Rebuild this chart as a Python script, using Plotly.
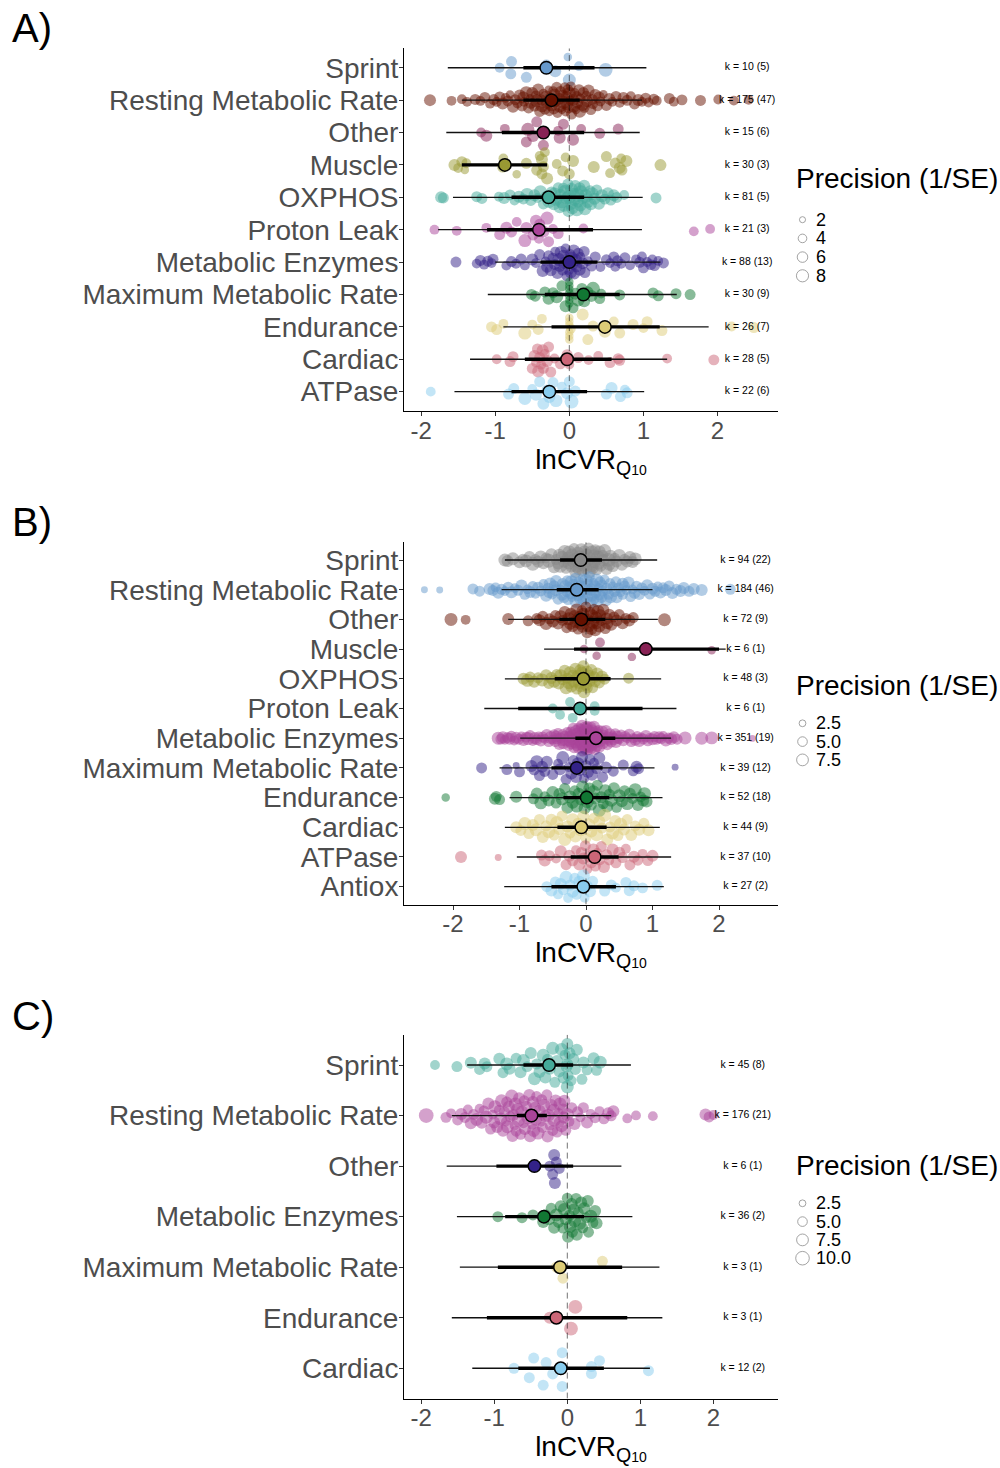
import numpy as np
import plotly.graph_objects as go

W, H = 1000, 1468
FONT = "Liberation Sans, Arial, Helvetica, sans-serif"

# orchaRd colour palette, assigned from the bottom category upwards
PALETTE = ["#88CCEE", "#CC6677", "#DDCC77", "#117733", "#332288", "#AA4499",
           "#44AA99", "#999933", "#882255", "#661100", "#6699CC", "#888888"]

X_TICKS = [-2, -1, 0, 1, 2]
X_TICK_LABELS = ["-2", "-1", "0", "1", "2"]

# ------------------------------------------------------------------ panel A
A_CATS = ["Sprint", "Resting Metabolic Rate", "Other", "Muscle", "OXPHOS",
          "Proton Leak", "Metabolic Enzymes", "Maximum Metabolic Rate",
          "Endurance", "Cardiac", "ATPase"]
A_EST = [-0.31, -0.24, -0.35, -0.87, -0.28, -0.41, 0.00, 0.19, 0.48, -0.03, -0.27]
A_CI_LO = [-0.62, -0.62, -0.91, -1.45, -0.78, -1.11, -0.39, -0.33, -0.24, -0.60, -0.78]
A_CI_HI = [0.34, 0.14, 0.20, -0.30, 0.20, 0.32, 0.38, 0.68, 1.22, 0.57, 0.24]
A_PI_LO = [-1.64, -1.45, -1.66, -1.45, -1.57, -1.77, -1.00, -1.10, -0.89, -1.34, -1.55]
A_PI_HI = [1.04, 0.98, 0.95, -0.30, 0.99, 0.98, 1.23, 1.45, 1.88, 1.32, 1.01]
A_K = ["k = 10 (5)", "k = 175 (47)", "k = 15 (6)", "k = 30 (3)", "k = 81 (5)",
       "k = 21 (3)", "k = 88 (13)", "k = 30 (9)", "k = 26 (7)", "k = 28 (5)",
       "k = 22 (6)"]

a_sprint_y = [-0.94, -0.79, -0.78, -0.58, -0.31, -0.19, -0.02, 0.00, 0.13, 0.49]
a_sprint_prec = [4, 5, 5, 5, 4, 6, 3, 7, 4, 8]

a_rmr_y = [-1.88, -1.59, -1.45, -1.38, -1.27, -1.20, -1.14, -1.07, -1.02, -0.98,
           -0.94, -0.90, -0.86, -0.83, -0.80, -0.76, -0.73, -0.70, -0.67, -0.64,
           -0.61, -0.58, -0.55, -0.53, -0.50, -0.47, -0.45, -0.42, -0.40, -0.37,
           -0.35, -0.33, -0.30, -0.28, -0.26, -0.24, -0.22, -0.20, -0.18, -0.16,
           -0.14, -0.12, -0.10, -0.08, -0.06, -0.05, -0.03, -0.02, 0.00, 0.01,
           0.03, 0.05, 0.07, 0.09, 0.11, 0.13, 0.15, 0.18, 0.20, 0.23,
           0.26, 0.29, 0.32, 0.35, 0.38, 0.42, 0.46, 0.50, 0.54, 0.58,
           0.63, 0.68, 0.73, 0.78, 0.83, 0.88, 0.93, 0.98, 1.03, 1.07,
           1.14, 1.18, 1.35, 1.41, 1.52, 1.77, 2.01, 2.22, 2.42,
           -0.62, -0.52, -0.44, -0.38, -0.31, -0.27, -0.21, -0.17, -0.13, -0.09,
           -0.04, -0.01, 0.02, 0.06, 0.10, 0.14, 0.19, 0.24, 0.31, 0.40]
a_rmr_prec = [6, 4, 4, 4, 5, 4, 5, 4, 5, 4,
              5, 6, 4, 5, 3, 6, 5, 4, 6, 5,
              4, 7, 5, 3, 6, 5, 4, 6, 5, 7,
              4, 5, 6, 3, 5, 7, 4, 6, 5, 4,
              6, 5, 3, 7, 5, 4, 6, 5, 7, 4,
              5, 6, 4, 3, 5, 6, 4, 7, 5, 4,
              6, 5, 4, 6, 5, 4, 3, 5, 6, 4,
              5, 4, 6, 5, 4, 5, 6, 4, 5, 4,
              5, 4, 5, 4, 5, 5, 4, 4, 4,
              6, 5, 7, 5, 6, 4, 6, 5, 7, 5,
              6, 5, 4, 6, 5, 7, 5, 6, 5, 6]

a_other_y = [-1.19, -1.12, -0.87, -0.58, -0.56, -0.49, -0.44, -0.35, -0.15, -0.13,
             -0.08, 0.05, 0.16, 0.41, 0.66]
a_other_prec = [4, 6, 4, 5, 7, 6, 5, 5, 4, 6, 5, 6, 4, 5, 5]

a_muscle_y = [-1.55, -1.50, -1.45, -1.41, -1.39, -0.90, -0.89, -0.71, -0.58, -0.44,
              -0.40, -0.37, -0.37, -0.35, -0.33, -0.30, -0.17, -0.09, -0.05, 0.00,
              0.05, 0.33, 0.50, 0.55, 0.62, 0.68, 0.70, 0.71, 0.77, 1.23]
a_muscle_prec = [6, 4, 5, 3, 4, 5, 4, 3, 5, 5,
                 4, 5, 6, 5, 4, 6, 4, 5, 4, 5,
                 6, 6, 5, 4, 5, 6, 4, 5, 6, 6]

a_oxphos_y = [-1.73, -1.70, -1.25, -1.18, -0.95, -0.88, -0.80, -0.74, -0.68, -0.62,
              -0.57, -0.52, -0.47, -0.43, -0.39, -0.35, -0.31, -0.27, -0.24, -0.21,
              -0.18, -0.15, -0.12, -0.10, -0.08, -0.06, -0.04, -0.02, 0.00, 0.02,
              0.04, 0.06, 0.08, 0.10, 0.12, 0.14, 0.16, 0.18, 0.20, 0.22,
              0.25, 0.28, 0.31, 0.34, 0.37, 0.40, 0.44, 0.48, 0.52, 0.56,
              0.60, 0.64, 0.74, 1.17,
              -0.20, -0.13, -0.07, -0.01, 0.03, 0.07, 0.11, 0.15, 0.21, 0.29]
a_oxphos_prec = [6, 5, 5, 5, 4, 6, 5, 4, 6, 5,
                 7, 5, 6, 4, 7, 5, 6, 8, 5, 6,
                 7, 5, 6, 8, 5, 7, 6, 5, 8, 6,
                 7, 5, 6, 8, 5, 6, 7, 5, 6, 8,
                 6, 5, 7, 6, 5, 6, 7, 5, 6, 5,
                 6, 5, 4, 5,
                 7, 6, 8, 6, 7, 5, 8, 6, 7, 6]

a_proton_y = [-1.82, -1.52, -1.12, -0.94, -0.85, -0.78, -0.71, -0.60, -0.58, -0.49,
              -0.45, -0.41, -0.40, -0.35, -0.30, -0.28, -0.22, -0.15, 0.19, 1.68, 1.90]
a_proton_prec = [4, 4, 4, 5, 6, 5, 4, 7, 6, 5, 6, 4, 5, 6, 7, 5, 4, 5, 4, 4, 4]

a_enzymes_y = [-1.53, -1.25, -1.20, -1.15, -1.10, -1.05, -1.03, -0.85, -0.78, -0.72,
               -0.65, -0.60, -0.50, -0.45, -0.40, -0.36, -0.32, -0.28, -0.25, -0.22,
               -0.19, -0.16, -0.13, -0.11, -0.09, -0.07, -0.05, -0.03, -0.01, 0.01,
               0.03, 0.05, 0.07, 0.09, 0.12, 0.15, 0.18, 0.21, 0.25, 0.30,
               0.35, 0.42, 0.50, 0.55, 0.60, 0.62, 0.65, 0.70, 0.75, 0.82,
               0.90, 0.95, 0.98, 1.00, 1.05, 1.10, 1.12, 1.15, 1.20, 1.27,
               -0.30, -0.20, -0.14, -0.08, -0.02, 0.02, 0.06, 0.10, 0.14, 0.20]
a_enzymes_prec = [5, 4, 5, 4, 5, 4, 5, 4, 5, 4,
                  5, 4, 6, 4, 5, 6, 4, 5, 6, 5,
                  4, 6, 5, 7, 5, 6, 4, 5, 6, 5,
                  7, 4, 5, 6, 5, 4, 6, 5, 4, 5,
                  5, 4, 5, 4, 5, 4, 5, 4, 5, 4,
                  4, 5, 4, 5, 4, 5, 4, 5, 4, 5,
                  6, 5, 7, 6, 5, 6, 7, 5, 6, 5]

a_mmr_y = [-0.51, -0.46, -0.33, -0.28, -0.22, -0.17, -0.10, -0.05, 0.00, 0.00,
           0.00, 0.00, 0.00, 0.00, 0.00, 0.05, 0.08, 0.12, 0.17, 0.20,
           0.25, 0.30, 0.32, 0.41, 0.43, 0.68, 1.13, 1.20, 1.44, 1.63]
a_mmr_prec = [5, 5, 5, 6, 5, 7, 5, 6, 3, 3,
              3, 3, 3, 3, 3, 5, 6, 7, 5, 6,
              5, 6, 8, 5, 4, 5, 5, 5, 5, 5]

a_endurance_y = [-1.05, -0.98, -0.89, -0.60, -0.50, -0.42, -0.37, 0.00, 0.00, 0.00,
                 0.00, 0.00, 0.00, 0.02, 0.18, 0.25, 0.32, 0.48, 0.60, 0.68,
                 0.86, 1.00, 1.05, 1.25, 2.19, 2.49]
a_endurance_prec = [5, 5, 4, 7, 4, 5, 4, 3, 3, 3,
                    3, 3, 3, 4, 6, 5, 5, 6, 4, 5,
                    5, 4, 5, 5, 4, 5]

a_cardiac_y = [-0.98, -0.80, -0.76, -0.50, -0.47, -0.45, -0.43, -0.42, -0.40, -0.38,
               -0.36, -0.35, -0.33, -0.30, -0.28, -0.25, -0.20, -0.12, -0.03, 0.00,
               0.12, 0.26, 0.39, 0.55, 0.66, 0.68, 1.32, 1.95]
a_cardiac_prec = [4, 5, 5, 5, 6, 4, 5, 6, 5, 4,
                  6, 5, 4, 6, 5, 5, 4, 5, 5, 4,
                  5, 4, 4, 5, 5, 5, 4, 5]

a_atpase_y = [-1.87, -0.82, -0.75, -0.60, -0.50, -0.45, -0.40, -0.35, -0.30, -0.27,
              -0.22, -0.18, -0.10, -0.03, 0.00, 0.03, 0.08, 0.50, 0.57, 0.69,
              0.75, 0.78]
a_atpase_prec = [4, 5, 5, 7, 4, 6, 5, 6, 5, 6,
                 5, 7, 4, 6, 5, 8, 5, 5, 6, 5,
                 4, 5]

A_POINTS = [(a_sprint_y, a_sprint_prec), (a_rmr_y, a_rmr_prec),
            (a_other_y, a_other_prec), (a_muscle_y, a_muscle_prec),
            (a_oxphos_y, a_oxphos_prec), (a_proton_y, a_proton_prec),
            (a_enzymes_y, a_enzymes_prec), (a_mmr_y, a_mmr_prec),
            (a_endurance_y, a_endurance_prec), (a_cardiac_y, a_cardiac_prec),
            (a_atpase_y, a_atpase_prec)]

# ------------------------------------------------------------------ panel B
B_CATS = ["Sprint", "Resting Metabolic Rate", "Other", "Muscle", "OXPHOS",
          "Proton Leak", "Metabolic Enzymes", "Maximum Metabolic Rate",
          "Endurance", "Cardiac", "ATPase", "Antiox"]
B_EST = [-0.08, -0.14, -0.07, 0.90, -0.04, -0.09, 0.15, -0.14, 0.01, -0.07, 0.13, -0.04]
B_CI_LO = [-0.39, -0.44, -0.40, -0.18, -0.47, -1.02, -0.16, -0.52, -0.34, -0.43, -0.23, -0.52]
B_CI_HI = [0.24, 0.19, 0.29, 2.00, 0.37, 0.85, 0.44, 0.25, 0.35, 0.31, 0.49, 0.45]
B_PI_LO = [-1.22, -1.27, -1.17, -0.63, -1.22, -1.53, -0.99, -1.30, -1.15, -1.22, -1.04, -1.23]
B_PI_HI = [1.07, 1.00, 1.08, 2.10, 1.13, 1.36, 1.28, 1.03, 1.15, 1.11, 1.28, 1.17]
B_K = ["k = 94 (22)", "k = 184 (46)", "k = 72 (9)", "k = 6 (1)", "k = 48 (3)",
       "k = 6 (1)", "k = 351 (19)", "k = 39 (12)", "k = 52 (18)", "k = 44 (9)",
       "k = 37 (10)", "k = 27 (2)"]

b_sprint_y = [-1.22, -1.18, -1.10, -1.00, -0.95, -0.90, -0.85, -0.80, -0.76, -0.72,
              -0.68, -0.64, -0.60, -0.56, -0.52, -0.48, -0.45, -0.42, -0.39, -0.36,
              -0.33, -0.30, -0.27, -0.25, -0.22, -0.20, -0.18, -0.16, -0.14, -0.12,
              -0.10, -0.08, -0.06, -0.04, -0.02, 0.00, 0.02, 0.04, 0.06, 0.08,
              0.10, 0.12, 0.14, 0.16, 0.18, 0.20, 0.22, 0.25, 0.28, 0.31,
              0.34, 0.37, 0.40, 0.43, 0.46, 0.50, 0.54, 0.58, 0.62, 0.66,
              0.70, 0.74,
              -0.40, -0.32, -0.26, -0.21, -0.15, -0.11, -0.07, -0.03, 0.01, 0.05,
              0.09, 0.13, 0.19, 0.26, 0.35]
b_sprint_prec = [7, 6, 7, 6, 5, 7, 6, 8, 5, 6,
                 7, 6, 5, 8, 6, 7, 5, 6, 8, 7,
                 6, 5, 7, 8, 6, 7, 5, 6, 8, 7,
                 6, 7, 5, 8, 6, 7, 6, 5, 7, 8,
                 6, 7, 5, 6, 8, 7, 6, 5, 7, 6,
                 8, 6, 7, 5, 6, 7, 6, 5, 6, 7,
                 6, 7,
                 7, 8, 6, 7, 8, 6, 7, 8, 6, 7,
                 8, 6, 7, 6, 7]

b_rmr_y = [-2.43, -2.20, -1.70, -1.60, -1.45, -1.40, -1.36, -1.32, -1.27, -1.22,
           -1.17, -1.12, -1.07, -1.02, -0.97, -0.92, -0.88, -0.84, -0.80, -0.76,
           -0.72, -0.68, -0.64, -0.60, -0.57, -0.54, -0.51, -0.48, -0.45, -0.42,
           -0.39, -0.36, -0.33, -0.31, -0.29, -0.27, -0.25, -0.23, -0.21, -0.19,
           -0.17, -0.15, -0.13, -0.11, -0.09, -0.07, -0.05, -0.03, -0.01, 0.01,
           0.03, 0.05, 0.07, 0.09, 0.11, 0.13, 0.15, 0.17, 0.19, 0.21,
           0.23, 0.25, 0.28, 0.31, 0.34, 0.37, 0.40, 0.43, 0.46, 0.49,
           0.52, 0.55, 0.58, 0.61, 0.64, 0.67, 0.70, 0.73, 0.76, 0.80,
           0.84, 0.88, 0.92, 0.96, 1.00, 1.04, 1.08, 1.12, 1.16, 1.20,
           1.25, 1.30, 1.36, 1.42, 1.47, 1.55, 1.62, 1.74, 2.17,
           -0.35, -0.28, -0.22, -0.16, -0.12, -0.08, -0.04, 0.00, 0.04, 0.08,
           0.12, 0.16, 0.20, 0.24, 0.30, 0.36, -0.45, 0.45, -0.55, 0.55]
b_rmr_prec = [2, 2, 5, 5, 6, 5, 4, 6, 5, 4,
              5, 6, 4, 5, 6, 5, 4, 6, 5, 4,
              6, 5, 4, 6, 5, 7, 4, 5, 6, 5,
              4, 6, 5, 7, 4, 5, 6, 5, 4, 6,
              5, 7, 4, 5, 6, 5, 4, 6, 5, 7,
              4, 5, 6, 5, 4, 6, 5, 7, 4, 5,
              6, 5, 4, 6, 5, 7, 4, 5, 6, 5,
              4, 6, 5, 4, 6, 5, 4, 6, 5, 6,
              5, 4, 6, 5, 6, 5, 4, 6, 5, 6,
              5, 6, 5, 6, 6, 5, 6, 6, 5,
              6, 5, 7, 5, 6, 4, 6, 7, 5, 6,
              5, 7, 6, 5, 6, 5, 6, 5, 6, 5]

b_other_y = [-2.03, -1.81, -1.17, -0.87, -0.74, -0.70, -0.65, -0.60, -0.55, -0.50,
             -0.46, -0.42, -0.38, -0.35, -0.32, -0.29, -0.26, -0.23, -0.20, -0.17,
             -0.15, -0.12, -0.10, -0.08, -0.06, -0.04, -0.02, 0.00, 0.02, 0.04,
             0.06, 0.08, 0.10, 0.12, 0.14, 0.16, 0.18, 0.20, 0.23, 0.26,
             0.29, 0.32, 0.35, 0.38, 0.42, 0.46, 0.50, 0.55, 0.60, 0.65,
             0.71, 1.18,
             -0.24, -0.14, -0.05, 0.03, 0.09, 0.15, 0.22, 0.31]
b_other_prec = [7, 4, 6, 5, 5, 6, 5, 7, 5, 6,
                5, 6, 7, 5, 6, 5, 7, 6, 5, 6,
                7, 5, 6, 7, 5, 6, 7, 5, 6, 7,
                5, 6, 7, 5, 6, 5, 7, 6, 5, 6,
                5, 6, 5, 6, 5, 6, 5, 6, 5, 6,
                5, 7,
                6, 7, 6, 5, 7, 6, 5, 6]

b_muscle_y = [-0.03, 0.16, 0.21, 0.69, 0.90, 1.89]
b_muscle_prec = [3, 3, 4, 3, 3, 3]

b_oxphos_y = [-0.94, -0.88, -0.84, -0.78, -0.72, -0.66, -0.60, -0.56, -0.52, -0.48,
              -0.44, -0.41, -0.38, -0.35, -0.32, -0.30, -0.28, -0.26, -0.24, -0.22,
              -0.20, -0.18, -0.16, -0.14, -0.12, -0.10, -0.09, -0.08, -0.06, -0.05,
              -0.04, -0.03, -0.02, 0.00, 0.01, 0.02, 0.04, 0.06, 0.08, 0.10,
              0.12, 0.14, 0.17, 0.20, 0.24, 0.28, 0.64]
b_oxphos_prec = [6, 7, 5, 6, 5, 7, 6, 5, 6, 7,
                 5, 6, 7, 5, 6, 7, 5, 6, 7, 6,
                 5, 7, 6, 5, 7, 6, 5, 6, 7, 5,
                 6, 7, 5, 6, 7, 5, 6, 5, 6, 5,
                 6, 5, 6, 5, 6, 5, 5]

b_proton_y = [-0.50, -0.39, -0.24, -0.20, 0.13, 0.13]
b_proton_prec = [4, 4, 4, 4, 4, 4]

b_enzymes_y = [-1.32, -1.28, -1.25, -1.22, -1.18, -1.15, -1.12, -1.08, -1.05, -1.01,
               -0.97, -0.94, -0.90, -0.87, -0.84, -0.80, -0.77, -0.74, -0.71, -0.68,
               -0.65, -0.62, -0.59, -0.56, -0.53, -0.50, -0.48, -0.46, -0.44, -0.42,
               -0.40, -0.38, -0.36, -0.34, -0.32, -0.30, -0.28, -0.26, -0.24, -0.22,
               -0.21, -0.20, -0.18, -0.17, -0.16, -0.14, -0.13, -0.12, -0.10, -0.09,
               -0.08, -0.07, -0.06, -0.05, -0.04, -0.03, -0.02, -0.01, 0.00, 0.00,
               0.01, 0.02, 0.03, 0.04, 0.05, 0.06, 0.07, 0.08, 0.09, 0.10,
               0.11, 0.12, 0.14, 0.15, 0.16, 0.18, 0.19, 0.20, 0.22, 0.24,
               0.26, 0.28, 0.30, 0.32, 0.34, 0.36, 0.38, 0.40, 0.42, 0.44,
               0.47, 0.50, 0.53, 0.56, 0.59, 0.62, 0.65, 0.68, 0.71, 0.74,
               0.77, 0.80, 0.83, 0.86, 0.90, 0.93, 0.96, 1.00, 1.03, 1.06,
               1.10, 1.13, 1.16, 1.20, 1.24, 1.28, 1.32, 1.37, 1.49, 1.74,
               1.89, 2.50,
               -0.25, -0.23, -0.19, -0.15, -0.11, -0.11, -0.08, -0.06, -0.04, -0.03,
               -0.02, -0.01, 0.00, 0.01, 0.02, 0.03, 0.05, 0.06, 0.08, 0.10,
               0.12, 0.13, 0.15, 0.17, 0.21, 0.25, -0.35, 0.33, -0.45, 0.45]
b_enzymes_prec = [7, 5, 6, 4, 5, 6, 5, 4, 6, 5,
                  4, 6, 5, 7, 5, 4, 6, 5, 4, 6,
                  5, 4, 6, 5, 7, 4, 5, 6, 5, 4,
                  6, 5, 4, 6, 5, 7, 4, 5, 6, 5,
                  4, 6, 5, 4, 6, 5, 7, 4, 5, 6,
                  5, 4, 6, 5, 4, 6, 5, 7, 4, 5,
                  6, 5, 4, 6, 5, 4, 6, 5, 7, 4,
                  5, 6, 5, 4, 6, 5, 4, 6, 5, 7,
                  4, 5, 6, 5, 4, 6, 5, 4, 6, 5,
                  7, 4, 5, 6, 5, 4, 6, 5, 4, 6,
                  5, 7, 4, 5, 6, 5, 4, 6, 5, 4,
                  6, 5, 4, 6, 5, 6, 6, 5, 7, 7,
                  7, 2,
                  6, 5, 6, 7, 5, 6, 5, 6, 7, 5,
                  6, 5, 7, 6, 5, 6, 5, 7, 6, 5,
                  6, 5, 6, 7, 5, 6, 5, 6, 5, 6]

b_mmr_y = [-1.57, -1.19, -1.05, -1.00, -0.82, -0.78, -0.74, -0.70, -0.66, -0.62,
           -0.59, -0.50, -0.42, -0.39, -0.35, -0.30, -0.26, -0.22, -0.19, -0.15,
           -0.12, -0.09, -0.06, -0.03, 0.00, 0.03, 0.06, 0.09, 0.12, 0.16,
           0.20, 0.25, 0.30, 0.41, 0.56, 0.71, 0.76, 0.79, 1.34]
b_mmr_prec = [5, 5, 2, 5, 6, 5, 7, 5, 6, 5,
              6, 5, 4, 6, 7, 5, 4, 6, 5, 6,
              7, 5, 6, 4, 5, 6, 5, 6, 4, 5,
              6, 5, 6, 5, 5, 5, 6, 5, 2]

b_endurance_y = [-2.11, -1.37, -1.35, -1.30, -1.05, -0.79, -0.74, -0.68, -0.62, -0.56,
                 -0.50, -0.45, -0.40, -0.36, -0.32, -0.28, -0.24, -0.20, -0.17, -0.14,
                 -0.11, -0.08, -0.05, -0.02, 0.00, 0.02, 0.05, 0.08, 0.11, 0.14,
                 0.17, 0.20, 0.23, 0.26, 0.29, 0.32, 0.35, 0.38, 0.42, 0.46,
                 0.50, 0.54, 0.58, 0.62, 0.66, 0.70, 0.74, 0.78, 0.82, 0.86,
                 0.88, 0.91]
b_endurance_prec = [3, 6, 5, 5, 6, 5, 6, 7, 5, 6,
                    7, 5, 6, 7, 5, 6, 7, 6, 5, 7,
                    6, 5, 7, 6, 5, 7, 6, 5, 7, 6,
                    5, 7, 6, 5, 7, 6, 5, 7, 6, 5,
                    7, 6, 5, 7, 6, 5, 7, 6, 5, 6,
                    7, 6]

b_cardiac_y = [-1.05, -0.98, -0.92, -0.86, -0.80, -0.75, -0.70, -0.65, -0.60, -0.56,
               -0.52, -0.48, -0.44, -0.40, -0.36, -0.32, -0.28, -0.24, -0.20, -0.16,
               -0.12, -0.08, -0.04, 0.00, 0.04, 0.08, 0.12, 0.16, 0.20, 0.24,
               0.28, 0.32, 0.36, 0.40, 0.44, 0.48, 0.52, 0.57, 0.62, 0.68,
               0.74, 0.80, 0.87, 0.94]
b_cardiac_prec = [6, 5, 7, 5, 6, 7, 5, 6, 5, 7,
                  6, 5, 7, 6, 5, 7, 6, 5, 7, 6,
                  5, 7, 6, 5, 7, 6, 5, 7, 6, 5,
                  7, 6, 5, 7, 6, 5, 7, 6, 5, 6,
                  5, 6, 5, 6]

b_atpase_y = [-1.88, -1.32, -0.67, -0.62, -0.55, -0.45, -0.38, -0.30, -0.25, -0.20,
              -0.15, -0.10, -0.07, -0.04, -0.01, 0.02, 0.05, 0.08, 0.11, 0.14,
              0.17, 0.20, 0.23, 0.27, 0.31, 0.35, 0.40, 0.45, 0.50, 0.55,
              0.60, 0.66, 0.72, 0.78, 0.85, 0.93, 1.00]
b_atpase_prec = [6, 2, 5, 6, 5, 4, 6, 5, 6, 5,
                 4, 6, 5, 6, 5, 4, 6, 5, 6, 5,
                 4, 6, 5, 6, 5, 4, 6, 5, 6, 5,
                 4, 5, 6, 5, 4, 5, 6]

b_antiox_y = [-0.59, -0.52, -0.46, -0.42, -0.38, -0.34, -0.30, -0.27, -0.24, -0.20,
              -0.17, -0.14, -0.10, -0.07, -0.04, -0.02, 0.02, 0.06, 0.10, 0.28,
              0.38, 0.45, 0.60, 0.65, 0.72, 0.85, 1.07]
b_antiox_prec = [5, 6, 5, 4, 6, 5, 7, 4, 5, 6,
                 5, 4, 6, 5, 7, 4, 5, 6, 5, 5,
                 5, 4, 5, 5, 5, 5, 5]

B_POINTS = [(b_sprint_y, b_sprint_prec), (b_rmr_y, b_rmr_prec),
            (b_other_y, b_other_prec), (b_muscle_y, b_muscle_prec),
            (b_oxphos_y, b_oxphos_prec), (b_proton_y, b_proton_prec),
            (b_enzymes_y, b_enzymes_prec), (b_mmr_y, b_mmr_prec),
            (b_endurance_y, b_endurance_prec), (b_cardiac_y, b_cardiac_prec),
            (b_atpase_y, b_atpase_prec), (b_antiox_y, b_antiox_prec)]

# ------------------------------------------------------------------ panel C
C_CATS = ["Sprint", "Resting Metabolic Rate", "Other", "Metabolic Enzymes",
          "Maximum Metabolic Rate", "Endurance", "Cardiac"]
C_EST = [-0.25, -0.49, -0.45, -0.32, -0.10, -0.15, -0.09]
C_CI_LO = [-0.60, -0.69, -0.97, -0.85, -0.95, -1.10, -0.67]
C_CI_HI = [0.08, -0.28, 0.08, 0.23, 0.75, 0.82, 0.50]
C_PI_LO = [-1.37, -1.58, -1.65, -1.51, -1.47, -1.58, -1.30]
C_PI_HI = [0.87, 0.60, 0.74, 0.89, 1.26, 1.30, 1.13]
C_K = ["k = 45 (8)", "k = 176 (21)", "k = 6 (1)", "k = 36 (2)", "k = 3 (1)",
       "k = 3 (1)", "k = 12 (2)"]

c_sprint_y = [-1.81, -1.51, -1.32, -1.20, -1.13, -1.10, -0.93, -0.88, -0.83, -0.79,
              -0.70, -0.64, -0.60, -0.55, -0.50, -0.45, -0.42, -0.38, -0.33, -0.30,
              -0.27, -0.24, -0.20, -0.17, -0.14, -0.11, -0.08, -0.05, -0.03, -0.01,
              0.00, 0.00, 0.00, 0.01, 0.03, 0.05, 0.08, 0.11, 0.13, 0.20,
              0.22, 0.27, 0.36, 0.40, 0.45]
c_sprint_prec = [4, 5, 6, 5, 6, 5, 6, 5, 7, 6,
                 5, 6, 7, 5, 6, 7, 5, 6, 7, 6,
                 5, 6, 7, 5, 6, 5, 7, 6, 5, 6,
                 6, 7, 6, 5, 6, 5, 6, 5, 6, 5,
                 6, 5, 6, 5, 7]

c_rmr_y = [-1.93, -1.66, -1.59, -1.50, -1.45, -1.40, -1.36, -1.32, -1.28, -1.24,
           -1.20, -1.17, -1.14, -1.11, -1.08, -1.05, -1.02, -0.99, -0.96, -0.93,
           -0.90, -0.88, -0.86, -0.84, -0.82, -0.80, -0.78, -0.76, -0.74, -0.72,
           -0.70, -0.68, -0.66, -0.64, -0.62, -0.60, -0.58, -0.56, -0.54, -0.52,
           -0.50, -0.48, -0.46, -0.44, -0.42, -0.40, -0.38, -0.36, -0.34, -0.32,
           -0.30, -0.28, -0.26, -0.24, -0.22, -0.20, -0.18, -0.16, -0.14, -0.12,
           -0.10, -0.08, -0.06, -0.04, -0.02, 0.00, 0.03, 0.06, 0.10, 0.14,
           0.18, 0.22, 0.27, 0.32, 0.38, 0.44, 0.50, 0.56, 0.60, 0.63,
           0.82, 0.94, 1.17, 1.89, 1.94, 2.00,
           -1.00, -0.91, -0.83, -0.75, -0.67, -0.59, -0.51, -0.43, -0.35, -0.27,
           -0.19, -0.11, -0.05, -0.71, -0.47]
c_rmr_prec = [9, 5, 4, 5, 6, 5, 4, 6, 5, 7,
              4, 6, 5, 7, 6, 5, 4, 7, 6, 5,
              7, 6, 5, 4, 7, 6, 5, 7, 6, 4,
              5, 7, 6, 5, 7, 4, 6, 5, 7, 6,
              5, 4, 7, 6, 5, 7, 6, 4, 5, 7,
              6, 5, 7, 4, 6, 5, 7, 6, 5, 4,
              7, 6, 5, 6, 5, 7, 4, 5, 6, 5,
              4, 5, 6, 4, 5, 4, 5, 6, 5, 6,
              4, 4, 4, 6, 5, 4,
              6, 7, 5, 6, 7, 5, 6, 7, 5, 6,
              7, 5, 6, 7, 6]

c_other_y = [-0.24, -0.20, -0.18, -0.17, -0.15, -0.11]
c_other_prec = [5, 5, 6, 6, 5, 5]

c_enzymes_y = [-0.95, -0.62, -0.47, -0.33, -0.30, -0.25, -0.22, -0.18, -0.15, -0.12,
               -0.09, -0.06, -0.04, -0.02, 0.00, 0.01, 0.03, 0.04, 0.06, 0.07,
               0.09, 0.10, 0.12, 0.13, 0.15, 0.17, 0.19, 0.21, 0.23, 0.26,
               0.28, 0.29, 0.32, 0.35, 0.38, 0.40]
c_enzymes_prec = [5, 5, 5, 6, 5, 6, 5, 6, 7, 5,
                  6, 5, 7, 6, 5, 6, 5, 7, 6, 5,
                  6, 7, 5, 6, 5, 7, 6, 5, 6, 5,
                  6, 5, 7, 5, 6, 6]

c_mmr_y = [-0.15, -0.06, 0.48]
c_mmr_prec = [5, 5, 5]

c_endurance_y = [-0.24, 0.05, 0.11]
c_endurance_prec = [6, 8, 8]

c_cardiac_y = [-0.73, -0.52, -0.46, -0.33, -0.29, -0.20, -0.07, -0.07, 0.33, 0.33,
               0.44, 1.11]
c_cardiac_prec = [5, 5, 5, 5, 5, 5, 5, 5, 5, 5, 5, 5]

C_POINTS = [(c_sprint_y, c_sprint_prec), (c_rmr_y, c_rmr_prec),
            (c_other_y, c_other_prec), (c_enzymes_y, c_enzymes_prec),
            (c_mmr_y, c_mmr_prec), (c_endurance_y, c_endurance_prec),
            (c_cardiac_y, c_cardiac_prec)]

# legend breaks of the precision size scale
A_BREAKS = [2, 4, 6, 8]
A_BREAK_LABELS = ["2", "4", "6", "8"]
B_BREAKS = [2.5, 5.0, 7.5]
B_BREAK_LABELS = ["2.5", "5.0", "7.5"]
C_BREAKS = [2.5, 5.0, 7.5, 10.0]
C_BREAK_LABELS = ["2.5", "5.0", "7.5", "10.0"]


# ------------------------------------------------------------------ helpers
def size_of(prec):
    """Marker diameter (px) for a precision value (area-proportional scale)."""
    return 4.9 * np.sqrt(np.asarray(prec, float))


def legend_size_of(prec):
    """Diameter of the open key circles in the precision legend."""
    return 4.3 * np.sqrt(np.asarray(prec, float))


def van_der_corput(n):
    out = np.empty(n)
    for i in range(1, n + 1):
        v, denom, k = 0.0, 1.0, i
        while k:
            denom *= 2.0
            k, r = divmod(k, 2)
            v += r / denom
        out[i - 1] = v
    return out


def quasirandom_offsets(vals, width=0.45):
    """Vertical beeswarm offsets scaled by a kernel density estimate."""
    x = np.asarray(vals, float)
    n = len(x)
    if n < 2:
        return np.zeros(n)
    sd = x.std(ddof=1)
    q75, q25 = np.percentile(x, [75, 25])
    s = min(sd, (q75 - q25) / 1.34) if q75 > q25 else sd
    h = 0.9 * s * n ** -0.2 if s > 0 else 0.1
    grid = np.linspace(x.min() - 3 * h, x.max() + 3 * h, 512)
    dgrid = np.exp(-0.5 * ((grid[:, None] - x[None, :]) / h) ** 2).sum(axis=1)
    dens = np.interp(x, grid, dgrid) / dgrid.max()
    order = np.argsort(x, kind="stable")
    ranks = np.empty(n, dtype=int)
    ranks[order] = np.arange(n)
    q = van_der_corput(n)[ranks]
    return (q - 0.5) * 2.0 * width * dens


def px_x(px):
    return px / W


def px_y(py):
    return 1.0 - py / H


X_DOMAIN = [px_x(404), px_x(778)]
K_LABEL_X = 2.4
X_TITLE = "lnCVR<sub>Q<span style='font-size:14px'>10</span></sub>"

PANELS = [
    dict(tag="A)", cats=A_CATS, points=A_POINTS, est=A_EST, ci=(A_CI_LO, A_CI_HI),
         pi=(A_PI_LO, A_PI_HI), k=A_K, breaks=A_BREAKS, break_labels=A_BREAK_LABELS,
         top=48.3, bottom=411.1, xrange=[-2.231, 2.816], tag_y=28.3,
         leg_title_y=178.3, leg_item_y=219.7, leg_step=18.7),
    dict(tag="B)", cats=B_CATS, points=B_POINTS, est=B_EST, ci=(B_CI_LO, B_CI_HI),
         pi=(B_PI_LO, B_PI_HI), k=B_K, breaks=B_BREAKS, break_labels=B_BREAK_LABELS,
         top=542.2, bottom=904.5, xrange=[-2.737, 2.887], tag_y=522.0,
         leg_title_y=685.0, leg_item_y=723.3, leg_step=18.3),
    dict(tag="C)", cats=C_CATS, points=C_POINTS, est=C_EST, ci=(C_CI_LO, C_CI_HI),
         pi=(C_PI_LO, C_PI_HI), k=C_K, breaks=C_BREAKS, break_labels=C_BREAK_LABELS,
         top=1034.7, bottom=1398.6, xrange=[-2.234, 2.882], tag_y=1016.0,
         leg_title_y=1165.0, leg_item_y=1203.3, leg_step=18.3),
]

fig = go.Figure()
annotations = []
shapes = []
layout_axes = {}

for pi_, panel in enumerate(PANELS):
    idx = "" if pi_ == 0 else str(pi_ + 1)
    xa, ya = "x" + idx, "y" + idx
    cats = panel["cats"]
    n = len(cats)
    pos = [n - i for i in range(n)]
    colours = [PALETTE[n - 1 - i] for i in range(n)]

    # raw effect sizes, spread vertically as a quasirandom beeswarm
    for i, (vals, prec) in enumerate(panel["points"]):
        if len(vals) != len(prec):
            raise ValueError(f"{cats[i]}: {len(vals)} values vs {len(prec)} precisions")
        off = quasirandom_offsets(vals)
        fig.add_trace(go.Scatter(
            x=vals, y=pos[i] + off, mode="markers", xaxis=xa, yaxis=ya,
            marker=dict(color=colours[i], opacity=0.5, size=size_of(prec),
                        line=dict(width=0)),
            hoverinfo="skip", showlegend=False))

    # zero reference line
    fig.add_trace(go.Scatter(
        x=[0, 0], y=[0.4, n + 0.6], mode="lines", xaxis=xa, yaxis=ya,
        line=dict(color="rgba(0,0,0,0.55)", width=1, dash="6px,4px"),
        hoverinfo="skip", showlegend=False))

    lo_pi, hi_pi = panel["pi"]
    lo_ci, hi_ci = panel["ci"]
    for i in range(n):
        # prediction interval (thin) and confidence interval (thick)
        fig.add_trace(go.Scatter(
            x=[lo_pi[i], hi_pi[i]], y=[pos[i], pos[i]], mode="lines",
            xaxis=xa, yaxis=ya, line=dict(color="#111111", width=1.3),
            hoverinfo="skip", showlegend=False))
        fig.add_trace(go.Scatter(
            x=[lo_ci[i], hi_ci[i]], y=[pos[i], pos[i]], mode="lines",
            xaxis=xa, yaxis=ya, line=dict(color="#000000", width=3.4),
            hoverinfo="skip", showlegend=False))
    fig.add_trace(go.Scatter(
        x=panel["est"], y=pos, mode="markers", xaxis=xa, yaxis=ya,
        marker=dict(color=colours, size=12.5, line=dict(color="black", width=1.5)),
        hoverinfo="skip", showlegend=False))

    # number of effect sizes (studies)
    fig.add_trace(go.Scatter(
        x=[K_LABEL_X] * n, y=pos, mode="text", text=panel["k"], xaxis=xa, yaxis=ya,
        textposition="middle center",
        textfont=dict(family=FONT, size=10.5, color="black"),
        hoverinfo="skip", showlegend=False))

    layout_axes["xaxis" + idx] = dict(
        domain=X_DOMAIN, anchor=ya, range=panel["xrange"],
        tickmode="array", tickvals=X_TICKS, ticktext=X_TICK_LABELS,
        ticks="outside", ticklen=4, tickwidth=1, tickcolor="#333333",
        ticklabelstandoff=-6,
        showline=True, linecolor="black", linewidth=1,
        showgrid=False, zeroline=False, automargin=False,
        tickfont=dict(family=FONT, size=24, color="#4d4d4d"),
        title=dict(text=X_TITLE, standoff=4,
                   font=dict(family=FONT, size=28, color="black")))
    layout_axes["yaxis" + idx] = dict(
        domain=[px_y(panel["bottom"]), px_y(panel["top"])], anchor=xa,
        range=[0.4, n + 0.6], tickmode="array", tickvals=pos, ticktext=cats,
        ticks="outside", ticklen=4, tickwidth=1, tickcolor="#333333",
        ticklabelstandoff=-5,
        showline=True, linecolor="black", linewidth=1,
        showgrid=False, zeroline=False, automargin=False,
        tickfont=dict(family=FONT, size=28, color="#4d4d4d"))

    # panel tag
    annotations.append(dict(
        text=panel["tag"], x=px_x(10), y=px_y(panel["tag_y"]), xref="paper",
        yref="paper", xanchor="left", yanchor="middle", showarrow=False,
        font=dict(family=FONT, size=40, color="black")))

    # precision size legend
    annotations.append(dict(
        text="Precision (1/SE)", x=px_x(794), y=px_y(panel["leg_title_y"]),
        xref="paper", yref="paper", xanchor="left", yanchor="middle",
        showarrow=False, font=dict(family=FONT, size=28, color="black")))
    for j, (b, lab) in enumerate(zip(panel["breaks"], panel["break_labels"])):
        cy = panel["leg_item_y"] + j * panel["leg_step"]
        r = float(legend_size_of(b)) / 2.0
        shapes.append(dict(
            type="circle", xref="paper", yref="paper",
            xsizemode="pixel", ysizemode="pixel",
            xanchor=px_x(802.5), yanchor=px_y(cy),
            x0=-r, x1=r, y0=-r, y1=r,
            line=dict(color="#8c8c8c", width=0.8), fillcolor="white"))
        annotations.append(dict(
            text=lab, x=px_x(814), y=px_y(cy), xref="paper", yref="paper",
            xanchor="left", yanchor="middle", showarrow=False,
            font=dict(family=FONT, size=18, color="black")))

fig.update_layout(
    width=W, height=H, autosize=False, template="none",
    margin=dict(l=0, r=0, t=0, b=0, pad=0),
    paper_bgcolor="white", plot_bgcolor="white",
    font=dict(family=FONT, color="black"),
    showlegend=False, annotations=annotations, shapes=shapes,
    **layout_axes)

fig.write_html("out.html")
